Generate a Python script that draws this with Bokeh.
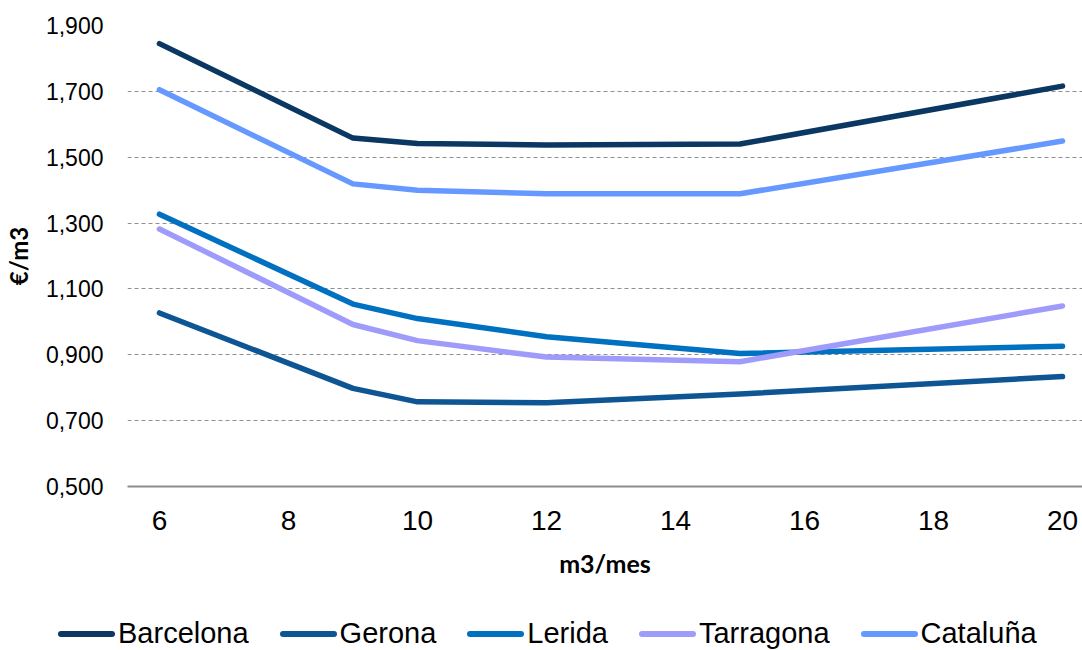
from bokeh.plotting import figure
from bokeh.layouts import column
from bokeh.models import (Range1d, FixedTicker, CustomJSTickFormatter, Div)
from bokeh.embed import file_html
from bokeh.resources import INLINE

x_vals = [6, 9, 10, 12, 15, 20]
barcelona = [1.845, 1.558, 1.542, 1.537, 1.540, 1.716]
gerona = [1.027, 0.798, 0.757, 0.754, 0.781, 0.834]
lerida = [1.327, 1.054, 1.010, 0.955, 0.904, 0.926]
tarragona = [1.282, 0.992, 0.943, 0.893, 0.879, 1.048]
cataluna = [1.705, 1.419, 1.400, 1.389, 1.389, 1.549]

series_names = ["Barcelona", "Gerona", "Lerida", "Tarragona", "Cataluña"]
series_vals = [barcelona, gerona, lerida, tarragona, cataluna]
colors = ["#0B3763", "#0E5594", "#0070C0", "#9E9BFA", "#6699FF"]

x_ticks = [6, 8, 10, 12, 14, 16, 18, 20]
y_ticks = [0.5, 0.7, 0.9, 1.1, 1.3, 1.5, 1.7, 1.9]
y_tick_labels = ["0,500", "0,700", "0,900", "1,100", "1,300", "1,500", "1,700", "1,900"]

p = figure(width=1082, height=600, output_backend="svg", toolbar_location=None,
           x_range=Range1d(5.505, 20.31), y_range=Range1d(0.5, 1.9),
           min_border_left=125, min_border_right=0, min_border_top=25,
           min_border_bottom=114)
p.outline_line_color = None
p.background_fill_color = "white"

for name, vals, c in zip(series_names, series_vals, colors):
    p.line(x_vals, vals, line_color=c, line_width=5.5, line_cap="round", line_join="round")

# grid
p.xgrid.grid_line_color = None
p.ygrid.ticker = FixedTicker(ticks=y_ticks)
p.ygrid.grid_line_color = "#8f8f8f"
p.ygrid.grid_line_dash = "4 3"
p.ygrid.grid_line_width = 1

# y axis
p.yaxis.ticker = FixedTicker(ticks=y_ticks)
p.yaxis.formatter = CustomJSTickFormatter(args=dict(tvals=y_ticks, tlabels=y_tick_labels), code="""
let best = 0; let bd = 1e9;
for (let i = 0; i < tvals.length; i++) { const d = Math.abs(tvals[i] - tick); if (d < bd) { bd = d; best = i; } }
return tlabels[best];
""")
p.yaxis.axis_line_color = None
p.yaxis.major_tick_line_color = None
p.yaxis.minor_tick_line_color = None
p.yaxis.major_label_text_font = "Liberation Sans"
p.yaxis.major_label_text_font_size = "23px"
p.yaxis.major_label_text_color = "#000000"
p.yaxis.major_label_standoff = 18
p.yaxis.axis_label = "€/m3"
p.yaxis.axis_label_text_font = "Lato"
p.yaxis.axis_label_text_font_style = "bold"
p.yaxis.axis_label_text_font_size = "24px"
p.yaxis.axis_label_text_color = "#000000"
p.yaxis.axis_label_standoff = 10

# x axis
p.xaxis.ticker = FixedTicker(ticks=x_ticks)
p.xaxis.axis_line_color = "#8c8c8c"
p.xaxis.axis_line_width = 2
p.xaxis.major_tick_line_color = None
p.xaxis.minor_tick_line_color = None
p.xaxis.major_label_text_font = "Liberation Sans"
p.xaxis.major_label_text_font_size = "28px"
p.xaxis.major_label_text_color = "#000000"
p.xaxis.major_label_standoff = 18
p.xaxis.axis_label = "m3/mes"
p.xaxis.axis_label_text_font = "Lato"
p.xaxis.axis_label_text_font_style = "bold"
p.xaxis.axis_label_text_font_size = "25px"
p.xaxis.axis_label_text_color = "#000000"
p.xaxis.axis_label_standoff = 15

# legend strip (HTML text)
items_html = "".join(
    f'<div style="display:flex;align-items:center;margin-right:31px;">'
    f'<span style="display:inline-block;width:57px;height:6px;border-radius:3px;background:{c};margin-right:3px;"></span>'
    f'<span>{n}</span></div>'
    for n, c in zip(series_names, colors)
)
legend_div = Div(
    text=f'<div style="display:flex;align-items:center;height:50px;padding-top:18px;padding-left:58px;'
         f'box-sizing:border-box;font-family:\'Liberation Sans\';font-size:29px;color:#000;white-space:nowrap;">'
         f'{items_html}</div>',
    width=1082, height=50, margin=0)

layout = column(p, legend_div, spacing=0)
open("out.html", "w").write(file_html(layout, INLINE))
